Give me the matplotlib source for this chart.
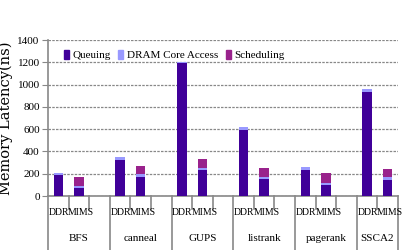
import numpy as np
import matplotlib
matplotlib.use("Agg")
import matplotlib.pyplot as plt

plt.rcParams['font.family'] = ['Liberation Serif', 'DejaVu Serif']

benchmarks = ['BFS', 'canneal', 'GUPS', 'listrank', 'pagerank', 'SSCA2']
configs = ['DDR', 'MIMS']
series = ['Queuing', 'DRAM Core Access', 'Scheduling']
colors = ['#400099', '#9999FF', '#99228C']

# values per benchmark, [DDR, MIMS]
queuing = [[190, 70], [320, 170], [1190, 230], [590, 150], [235, 100], [935, 145]]
core = [[20, 20], [30, 25], [15, 25], [30, 20], [25, 20], [25, 25]]
scheduling = [[0, 80], [0, 75], [0, 75], [0, 85], [0, 85], [0, 75]]

fig = plt.figure(figsize=(4.15, 2.5), dpi=100)
ax = fig.add_axes([48 / 415, 54 / 250, 350 / 415, 156 / 250])

data = [np.array(queuing), np.array(core), np.array(scheduling)]
n_slots = 3 * len(benchmarks) - 1
for g in range(len(benchmarks)):
    for c in range(2):
        x = 3 * g + c + 0.5
        bottom = 0
        for s in range(3):
            v = data[s][g, c]
            if v > 0:
                ax.bar(x, v, width=0.46, bottom=bottom, color=colors[s],
                       edgecolor='none', zorder=3)
            bottom += v

ax.set_xlim(0, n_slots)
ax.set_ylim(0, 1400)
ax.set_yticks(range(0, 1401, 200))
ax.tick_params(axis='y', labelsize=8, length=4, color='#888888', pad=2)
ax.tick_params(axis='x', bottom=False, labelbottom=False)
ax.yaxis.grid(True, linestyle=(0, (2, 1)), color='#888888', lw=0.9, zorder=0)
for sp in ['top', 'right']:
    ax.spines[sp].set_visible(False)
for sp in ['left', 'bottom']:
    ax.spines[sp].set_color('#888888')
    ax.spines[sp].set_linewidth(1.2)

tr = ax.get_xaxis_transform()
# category axis lines and labels
for g in range(len(benchmarks)):
    ax.plot([3 * g, 3 * g], [0, -0.36], transform=tr, color='#888888',
            lw=1.2, clip_on=False)
    for k in (1, 2):
        xk = 3 * g + k
        if xk < n_slots:
            ax.plot([xk, xk], [0, -0.085], transform=tr, color='#888888',
                    lw=1.2, clip_on=False)
    ax.text(3 * g + 1.02, -0.105, configs[0], transform=tr,
            ha='right', va='center', fontsize=7)
    ax.text(3 * g + 0.98, -0.105, configs[1], transform=tr,
            ha='left', va='center', fontsize=7)
    ax.text(3 * g + 1.5 if g < 5 else 3 * g + 1, -0.27, benchmarks[g],
            transform=tr, ha='center', va='center', fontsize=8)
ax.plot([n_slots, n_slots], [0, -0.36], transform=tr, color='#888888',
        lw=1.2, clip_on=False)

ax.set_ylabel('Memory Latency(ns)', fontsize=10.5, family='DejaVu Serif')
ax.yaxis.set_label_coords(-35 / 350, 0.5)

handles = [plt.Rectangle((0, 0), 1, 1, color=col) for col in colors]
ax.legend(handles, series, loc='upper left', bbox_to_anchor=(0.02, 0.995),
          ncol=3, frameon=False, fontsize=8, handlelength=0.45,
          handleheight=0.9, handletextpad=0.3, columnspacing=0.7,
          borderpad=0.3)

fig.savefig('out.png', dpi=100)
